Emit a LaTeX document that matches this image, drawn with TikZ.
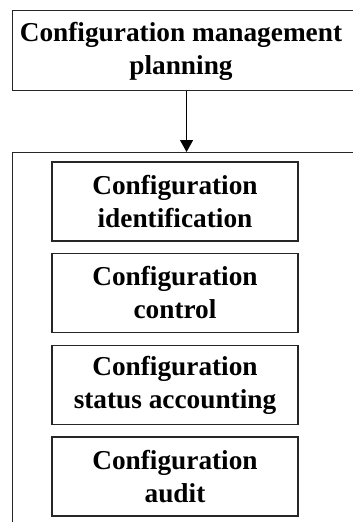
\documentclass[tikz,border=0pt]{standalone}
\usepackage{fontspec}
\setmainfont{Liberation Serif}
\usetikzlibrary{arrows.meta}
\tikzset{
  frame/.style={draw=black!85, line width=1.1pt, inner sep=0pt},
  label text/.style={align=center, inner sep=0pt,
    font=\bfseries\fontsize{27.3}{33}\selectfont},
  stage/.style={frame, label text, minimum width=246pt, minimum height=79pt},
  flow/.style={draw=black, line width=1.1pt, -{Triangle[width=13pt,length=12pt]}}
}
\begin{document}
\begin{tikzpicture}[x=1pt,y=-1pt]
  \useasboundingbox (0,0) rectangle (353,522);
  \clip (0,0) rectangle (353,522);
  % planning box, running past the right edge
  \node[frame, minimum width=348pt, minimum height=80.5pt, anchor=north west]
        (plan) at (12,9.5) {};
  \node[label text] (plantext) at (181,51) {Configuration management\\planning};
  % enclosing frame of the four activities
  \node[frame, minimum width=348pt, minimum height=390pt, anchor=north west]
        (group) at (12,152) {};
  % activities
  \node[stage] (ident)  at (175,201.5) {Configuration\\identification};
  \node[stage] (ctrl)   at (175,293)   {Configuration\\control};
  \node[stage] (status) at (175,385)   {Configuration\\status accounting};
  \node[stage] (audit)  at (175,476.5) {Configuration\\audit};
  \draw[flow] (plan.south) -- (group.north);
\end{tikzpicture}
\end{document}
